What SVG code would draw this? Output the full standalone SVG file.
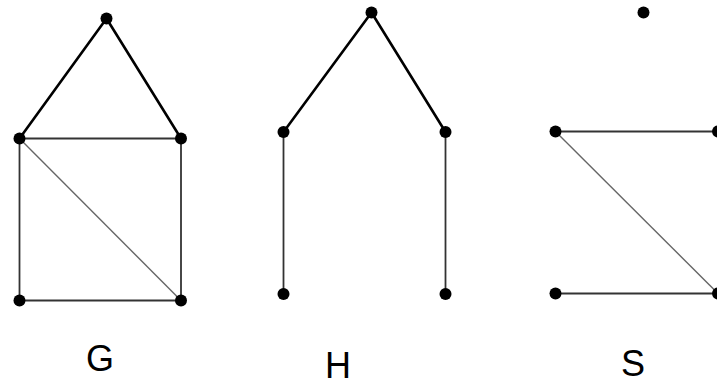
<svg xmlns="http://www.w3.org/2000/svg" width="717" height="381" viewBox="0 0 717 381">
<style>
.thick{stroke:#000;stroke-width:2.6;fill:none;stroke-linecap:round}
.mid{stroke:#333;stroke-width:1.8;fill:none}
.thin{stroke:#666;stroke-width:1.4;fill:none}
.n{fill:#000}
.lbl{font-family:"Liberation Sans",Arial,sans-serif;font-size:36px;fill:#000;text-anchor:middle}
</style>
<rect width="717" height="381" fill="#fff"/>
<g id="connectors">
<line class="thick" x1="106.5" y1="18.5" x2="19.5" y2="138.5"/>
<line class="thick" x1="106.5" y1="18.5" x2="181" y2="138.5"/>
<line class="mid" x1="19.5" y1="138.5" x2="181" y2="138.5"/>
<line class="mid" x1="19.5" y1="138.5" x2="19.5" y2="300.5"/>
<line class="mid" x1="181" y1="138.5" x2="181" y2="300.5"/>
<line class="mid" x1="19.5" y1="300.5" x2="181" y2="300.5"/>
<line class="thin" x1="19.5" y1="138.5" x2="181" y2="300.5"/>
<line class="thick" x1="371.5" y1="12.5" x2="283.5" y2="132"/>
<line class="thick" x1="371.5" y1="12.5" x2="445.5" y2="132"/>
<line class="mid" x1="283.5" y1="132" x2="283.5" y2="294"/>
<line class="mid" x1="445.5" y1="132" x2="445.5" y2="294"/>
<line class="mid" x1="555.5" y1="131.5" x2="718" y2="131.5"/>
<line class="mid" x1="555.5" y1="293.5" x2="718" y2="293.5"/>
<line class="thin" x1="555.5" y1="131.5" x2="718" y2="293.5"/>
</g>
<g id="G">
<circle class="n" cx="106.5" cy="18.5" r="6"/>
<circle class="n" cx="19.5" cy="138.5" r="6"/>
<circle class="n" cx="181" cy="138.5" r="6"/>
<circle class="n" cx="19.5" cy="300.5" r="6"/>
<circle class="n" cx="181" cy="300.5" r="6"/>
<text class="lbl" x="100" y="371">G</text>
</g>
<g id="H">
<circle class="n" cx="371.5" cy="12.5" r="6"/>
<circle class="n" cx="283.5" cy="132" r="6"/>
<circle class="n" cx="445.5" cy="132" r="6"/>
<circle class="n" cx="283.5" cy="294" r="6"/>
<circle class="n" cx="445.5" cy="294" r="6"/>
<text class="lbl" x="338" y="378">H</text>
</g>
<g id="S">
<circle class="n" cx="643.5" cy="12.5" r="6"/>
<circle class="n" cx="555.5" cy="131.5" r="6"/>
<circle class="n" cx="718" cy="131.5" r="6"/>
<circle class="n" cx="555.5" cy="293.5" r="6"/>
<circle class="n" cx="718" cy="293.5" r="6"/>
<text class="lbl" x="633" y="376">S</text>
</g>
</svg>
